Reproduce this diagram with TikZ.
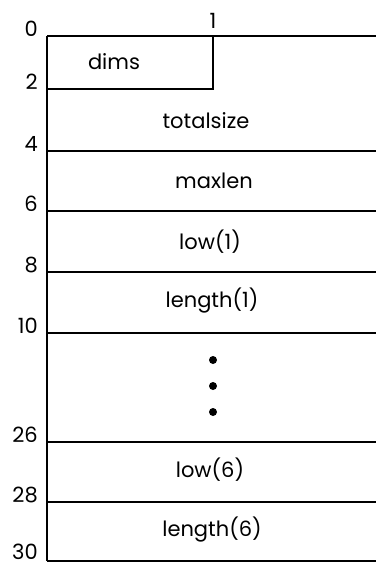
\documentclass[tikz,border=0pt]{standalone}
\usepackage{fontspec}
\setmainfont{Poppins}
\begin{document}
\begin{tikzpicture}[x=1pt,y=-1pt,
  rule/.style={line width=2pt},
  field/.style={font=\fontsize{21}{24}\selectfont, inner sep=0pt},
  offset/.style={font=\fontsize{21}{24}\selectfont, inner sep=0pt, anchor=base east}]
\useasboundingbox (0,0) rectangle (376,563);

% left edge of the record
\coordinate (L0) at (47,36);
\coordinate (L30) at (47,561);
\draw[rule] (L0) -- (L30);

% full-width separators
\foreach \y in {36, 151, 211, 272, 333, 442, 502, 561}
  \draw[rule] (47,\y) -- (376,\y);

% the dims box
\coordinate (D1) at (213,36);
\coordinate (D2) at (213,89);
\coordinate (D3) at (47,89);
\draw[rule] (D1) -- (D2) -- (D3);

% byte offsets
\foreach \y/\n in {36/0, 89/2, 151/4, 211/6, 272/8, 333/10, 442/26, 502/28, 559/30}
  \node[offset] (off\n) at (38,\y) {\n};
\node[offset, anchor=base] (col1) at (213,28) {1};

% field names
\node[field] (dims)      at (114,62)  {dims};
\node[field] (totalsize) at (206,121) {totalsize};
\node[field] (maxlen)    at (214,181) {maxlen};
\node[field] (low1)      at (210,242) {low(1)};
\node[field] (length1)   at (212,301) {length(1)};
\node[field] (low6)      at (210,470) {low(6)};
\node[field] (length6)   at (212,530) {length(6)};

% elision dots
\foreach \i/\y in {1/360, 2/386, 3/412}
  \fill (213,\y) circle (4pt) coordinate (dot\i);
\end{tikzpicture}
\end{document}
